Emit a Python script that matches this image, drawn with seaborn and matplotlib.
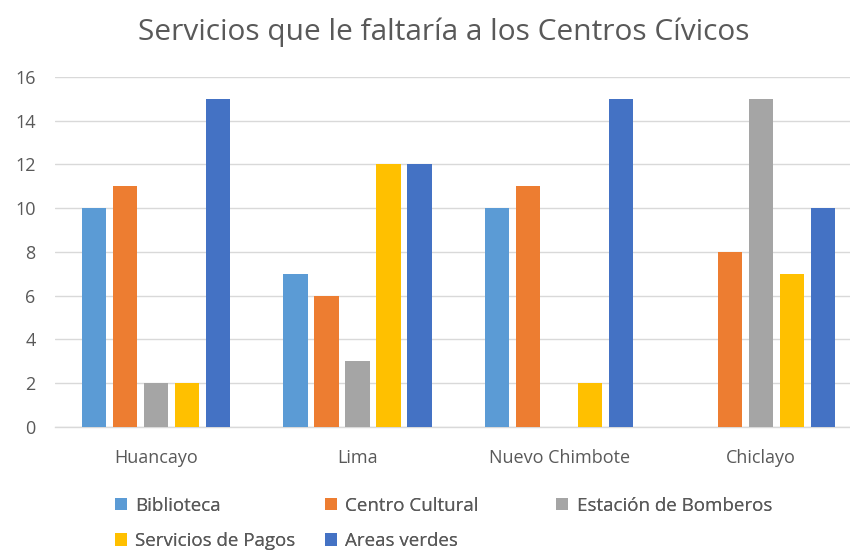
import matplotlib
matplotlib.use("Agg")
import matplotlib.pyplot as plt
import seaborn as sns
import pandas as pd
from matplotlib.patches import Patch

ciudades = ["Huancayo", "Lima", "Nuevo Chimbote", "Chiclayo"]
servicios = ["Biblioteca", "Centro Cultural", "Estación de Bomberos",
             "Servicios de Pagos", "Areas verdes"]
biblioteca = [10, 7, 10, 0]
centro_cultural = [11, 6, 11, 8]
estacion_bomberos = [2, 3, 0, 15]
servicios_pagos = [2, 12, 2, 7]
areas_verdes = [15, 12, 15, 10]
colores = ["#5B9BD5", "#ED7D31", "#A5A5A5", "#FFC000", "#4472C4"]

series = [biblioteca, centro_cultural, estacion_bomberos, servicios_pagos, areas_verdes]
rows = []
for serv, vals in zip(servicios, series):
    for ciudad, v in zip(ciudades, vals):
        rows.append({"Ciudad": ciudad, "Servicio": serv, "Valor": v})
df = pd.DataFrame(rows)

sns.set_theme(style="white")
plt.rcParams["font.family"] = ["Open Sans", "DejaVu Sans"]

fig = plt.figure(figsize=(8.5, 5.53), dpi=100)
# the plot area runs past the right edge of the canvas
ax = fig.add_axes([0.0647, 0.228, 0.949, 0.633])

sns.barplot(data=df, x="Ciudad", y="Valor", hue="Servicio", order=ciudades,
            hue_order=servicios, palette=colores, width=0.768, gap=0.21,
            saturation=1, legend=False, ax=ax, zorder=3, linewidth=0)

ax.set_xlim(-0.5, 3.5)
ax.set_ylim(0, 16)
ax.set_yticks(range(0, 17, 2))
ax.yaxis.grid(True, color="#D9D9D9", linewidth=1, zorder=0)
ax.set_axisbelow(True)
for s in ["top", "right", "left"]:
    ax.spines[s].set_visible(False)
ax.spines["bottom"].set_color("#D9D9D9")
ax.spines["bottom"].set_linewidth(1)
ax.set_xlabel("")
ax.set_ylabel("")
ax.tick_params(axis="both", length=0, labelsize=13, colors="#595959")
ax.tick_params(axis="x", pad=16)
ax.tick_params(axis="y", pad=14)

fig.suptitle("Servicios que le faltaría a los Centros Cívicos", x=0.522, y=0.968,
             fontsize=21.5, color="#595959")

# Legend laid out in three columns, filled row by row
columnas = [(0.135, [0, 3]), (0.382, [1, 4]), (0.654, [2])]
for x0, idx in columnas:
    handles = [Patch(facecolor=colores[i], edgecolor="none") for i in idx]
    labels = [servicios[i] for i in idx]
    leg = fig.legend(handles, labels, loc="upper left", bbox_to_anchor=(x0, 0.102),
                     frameon=False, fontsize=13.5, labelcolor="#595959",
                     handlelength=0.65, handleheight=0.65, handletextpad=0.45,
                     borderaxespad=0, borderpad=0, labelspacing=0.92)
    fig.add_artist(leg)

fig.savefig("out.png", dpi=100, facecolor="white")
